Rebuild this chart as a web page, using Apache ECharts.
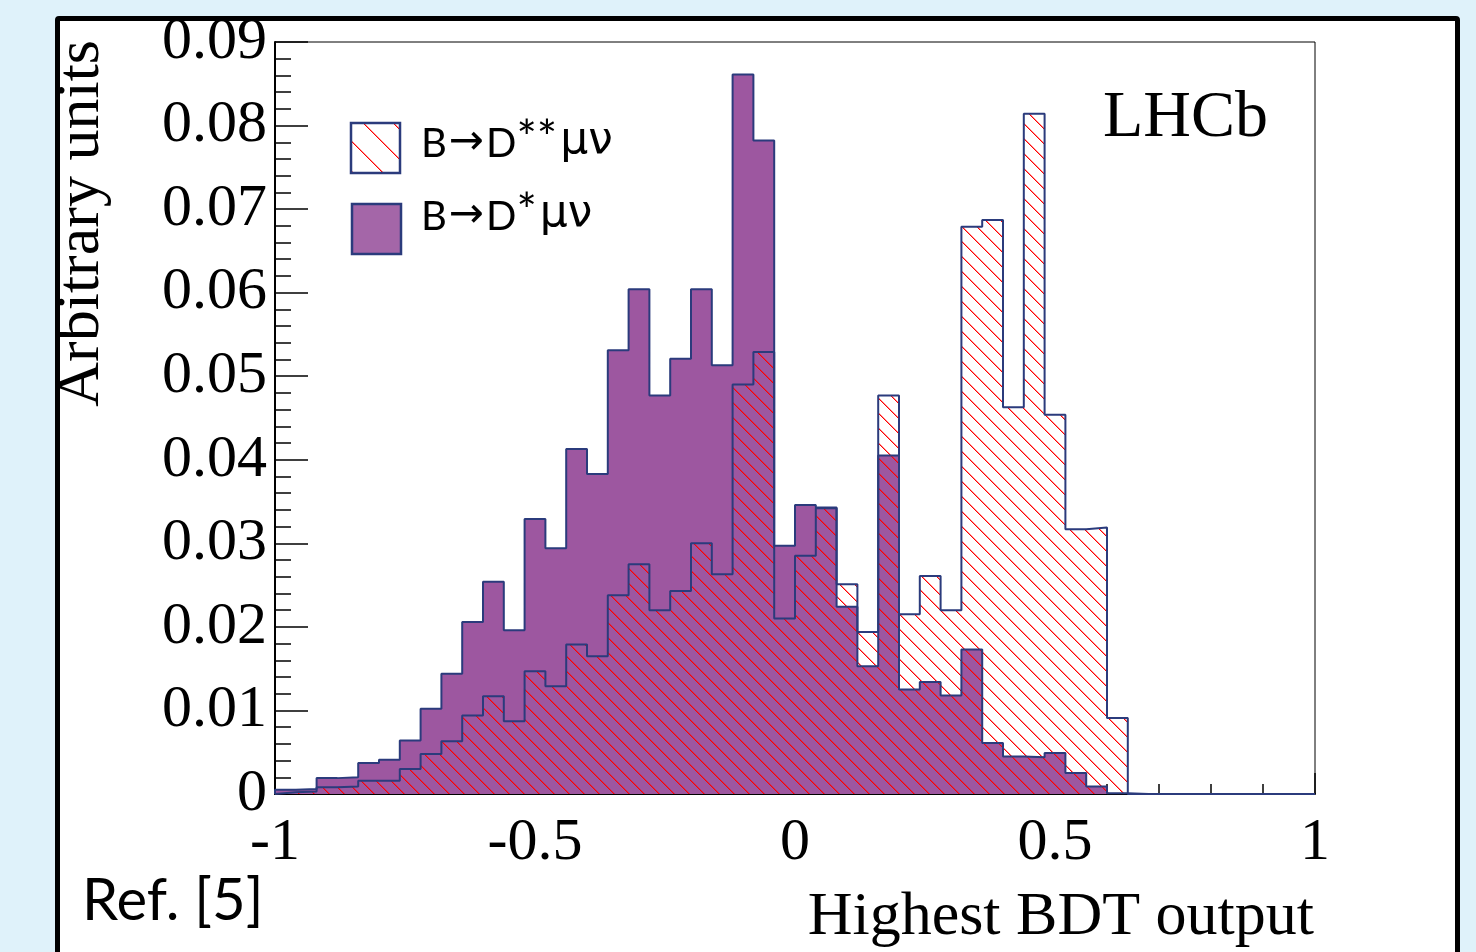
<!DOCTYPE html>
<html>
<head>
<meta charset="utf-8">
<script src="https://cdn.jsdelivr.net/npm/echarts@6/dist/echarts.min.js"></script>
<style>
  html, body { margin: 0; padding: 0; background: #dff2fa; overflow: hidden; }
  #panel {
    position: absolute; left: 55px; top: 16px; width: 1395px; height: 1000px;
    background: #fff; border: 5px solid #000; border-radius: 4px;
  }
  #chart { position: absolute; left: 0; top: 0; width: 1476px; height: 952px; }
</style>
</head>
<body>
<div id="panel"></div>
<div id="chart"></div>
<script>
// 50 bins of width 0.04 from -1 to 1
const binStart = -1
const binWidth = 0.04

// B -> D* mu nu  (filled purple)
const dStarVals = [
  0.0005, 0.0006, 0.0019, 0.0020, 0.0037, 0.0041, 0.0064, 0.0102, 0.0144, 0.0206,
  0.0254, 0.0196, 0.0329, 0.0294, 0.0413, 0.0383, 0.0531, 0.0604, 0.0477, 0.0521,
  0.0604, 0.0513, 0.0861, 0.0782, 0.0297, 0.0346, 0.0343, 0.0224, 0.0153, 0.0405,
  0.0125, 0.0134, 0.0118, 0.0173, 0.0061, 0.0045, 0.0044, 0.0049, 0.0025, 0.0009,
  0.0001, 0, 0, 0, 0, 0, 0, 0, 0, 0
]
// B -> D** mu nu  (red hatched)
const dStarStarVals = [
  0.0002, 0.0003, 0.0008, 0.0009, 0.0016, 0.0016, 0.0030, 0.0048, 0.0063, 0.0094,
  0.0117, 0.0087, 0.0147, 0.0129, 0.0179, 0.0165, 0.0238, 0.0275, 0.0220, 0.0243,
  0.0300, 0.0263, 0.0490, 0.0529, 0.0210, 0.0285, 0.0342, 0.0251, 0.0194, 0.0477,
  0.0215, 0.0261, 0.0220, 0.0679, 0.0687, 0.0463, 0.0814, 0.0454, 0.0317, 0.0319,
  0.0091, 0, 0, 0, 0, 0, 0, 0, 0, 0
]

const seriesNames = ['B→D**μν', 'B→D*μν']
const legendRich = [
  '{t|B}{a|→}{t|D}{s|**}{g|μν}',
  '{t|B}{a|→}{t|D}{s|*}{g|μν}',
]

const serif = 'Liberation Serif'
const sans = 'Lato'
const outline = '#2b3b7c'
const purple = '#9d57a0'

// histogram as a step line: left bin edges + closing edge
const toSteps = (vals) => {
  const pts = [[binStart, 0]]
  vals.forEach((v, i) => pts.push([binStart + binWidth * i, v]))
  pts.push([binStart + binWidth * vals.length, vals[vals.length - 1]])
  return pts
}

// red "\\\\" hatch tile
const makeHatch = (size) => {
  const c = document.createElement('canvas')
  c.width = size
  c.height = size
  const ctx = c.getContext('2d')
  for (let i = 0; i < size; i++) {
    ctx.fillStyle = '#ff0000'
    ctx.fillRect(i, i, 1, 1)
    ctx.fillStyle = 'rgba(255,0,0,0.45)'
    ctx.fillRect((i + 1) % size, i, 1, 1)
  }
  return c
}
const hatch = { image: makeHatch(15), repeat: 'repeat' }
const hatchLegend = { image: makeHatch(30), repeat: 'repeat' }

const richStyle = {
  t: { fontFamily: sans, fontSize: 40, fill: '#000', verticalAlign: 'bottom', lineHeight: 48 },
  a: { fontFamily: 'DejaVu Sans', fontSize: 42, fill: '#000', verticalAlign: 'bottom', lineHeight: 48, padding: [0, 2, 0, 2] },
  g: { fontFamily: 'DejaVu Sans', fontSize: 44, fill: '#000', verticalAlign: 'bottom', lineHeight: 48, padding: [0, 0, 0, 3] },
  s: { fontFamily: sans, fontSize: 48, fill: '#000', verticalAlign: 'top', lineHeight: 48 },
}

const chart = echarts.init(document.getElementById('chart'), null, { renderer: 'canvas' })
chart.setOption({
  animation: false,
  backgroundColor: 'transparent',
  grid: {
    left: 275, right: 161, top: 42, bottom: 158,
    show: true, backgroundColor: '#fff', borderColor: '#000', borderWidth: 1,
  },
  xAxis: {
    type: 'value', min: -1, max: 1, interval: 0.5,
    axisLine: { onZero: false, lineStyle: { color: '#000', width: 2 } },
    axisTick: { inside: true, length: 21, lineStyle: { color: '#000', width: 1.5 } },
    minorTick: { show: true, splitNumber: 5, length: 10, lineStyle: { color: '#000', width: 1.5 } },
    splitLine: { show: false },
    axisLabel: {
      margin: 19, fontFamily: serif, fontSize: 60, color: '#000',
      formatter: (v) => (v === 0 ? '0' : String(v)),
    },
  },
  yAxis: {
    type: 'value', min: 0, max: 0.09, interval: 0.01,
    axisLine: { show: true, onZero: false, lineStyle: { color: '#000', width: 2 } },
    axisTick: { inside: true, length: 33, lineStyle: { color: '#000', width: 1.5 } },
    minorTick: { show: true, splitNumber: 5, length: 16, lineStyle: { color: '#000', width: 1.5 } },
    splitLine: { show: false },
    axisLabel: {
      margin: 8, fontFamily: serif, fontSize: 60, color: '#000',
      formatter: (v) => (v === 0 ? '0' : v.toFixed(2)),
    },
  },
  series: [
    {
      name: seriesNames[1],
      type: 'line', step: 'end', symbol: 'none',
      data: toSteps(dStarVals),
      lineStyle: { color: outline, width: 2 },
      itemStyle: { color: purple },
      areaStyle: { color: purple, opacity: 1 },
    },
    {
      name: seriesNames[0],
      type: 'line', step: 'end', symbol: 'none',
      data: toSteps(dStarStarVals),
      lineStyle: { color: outline, width: 2 },
      itemStyle: { color: outline },
      areaStyle: { color: hatch, opacity: 1 },
    },
  ],
  graphic: [
    // legend
    {
      type: 'rect', shape: { x: 351, y: 123, width: 49, height: 50 },
      style: { fill: hatchLegend, stroke: outline, lineWidth: 2.5 },
    },
    {
      type: 'rect', shape: { x: 352, y: 204, width: 49, height: 50 },
      style: { fill: '#a466a8', stroke: outline, lineWidth: 2.5 },
    },
    {
      type: 'text', x: 421, y: 164,
      style: { text: legendRich[0], textAlign: 'left', textVerticalAlign: 'bottom', rich: richStyle },
    },
    {
      type: 'text', x: 421, y: 237,
      style: { text: legendRich[1], textAlign: 'left', textVerticalAlign: 'bottom', rich: richStyle },
    },
    // labels
    {
      type: 'text', x: 82, y: 40, rotation: Math.PI / 2,
      style: { text: 'Arbitrary units', font: '62px "Liberation Serif"', fill: '#000', textAlign: 'right', textVerticalAlign: 'middle' },
    },
    {
      type: 'text', x: 1103, y: 119,
      style: { text: 'LHCb', font: '66px "Liberation Serif"', fill: '#000', textAlign: 'left', textVerticalAlign: 'middle' },
    },
    {
      type: 'text', x: 1314, y: 918,
      style: { text: 'Highest BDT output', font: '62px "Liberation Serif"', fill: '#000', textAlign: 'right', textVerticalAlign: 'middle' },
    },
    {
      type: 'text', x: 82, y: 901,
      style: { text: 'Ref. [5]', font: '58px Lato', fill: '#000', textAlign: 'left', textVerticalAlign: 'middle' },
    },
  ],
})
</script>
</body>
</html>
